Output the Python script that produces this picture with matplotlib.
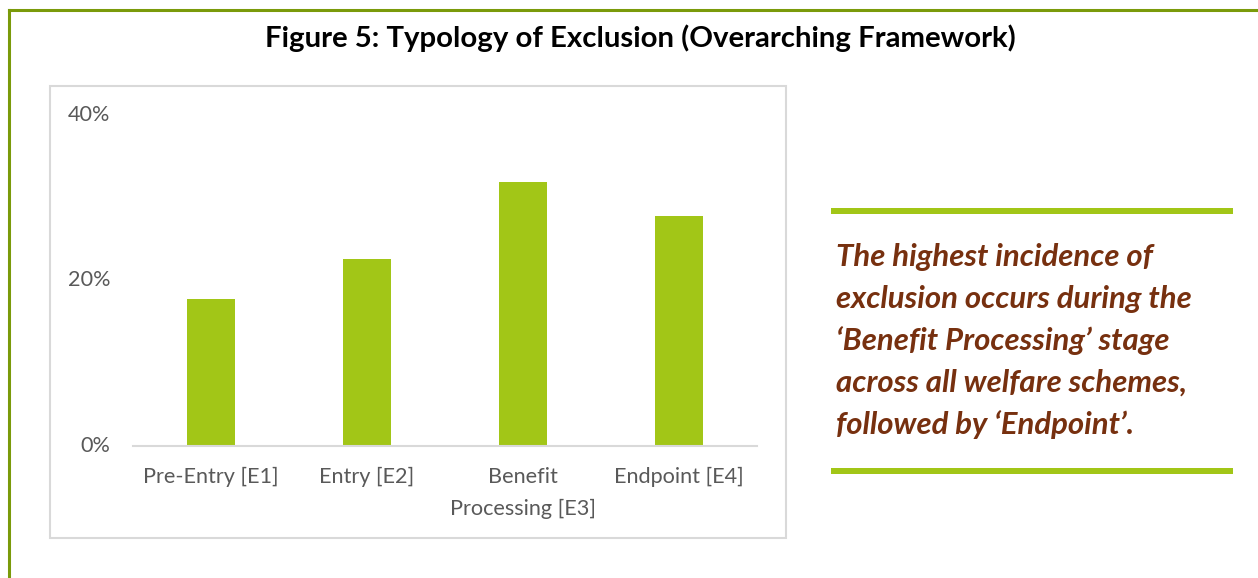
import matplotlib
matplotlib.use("Agg")
import matplotlib.pyplot as plt
from matplotlib.patches import Rectangle
from matplotlib.lines import Line2D
from matplotlib.ticker import FuncFormatter

# stages of exclusion and share of exclusion (%)
STAGES = ["Pre-Entry [E1]", "Entry [E2]", "Benefit\nProcessing [E3]", "Endpoint [E4]"]
SHARE = [17.8, 22.6, 31.9, 27.8]
Y_TICKS = [0, 20, 40]

TITLE = "Figure 5: Typology of Exclusion (Overarching Framework)"
NOTE = ["The highest incidence of",
        "exclusion occurs during the",
        "\u2018Benefit Processing\u2019 stage",
        "across all welfare schemes,",
        "followed by \u2018Endpoint\u2019."]

W, H = 1258, 578
BAR = "#A2C617"
OLIVE = "#7A9A0A"
BROWN = "#77300F"
GREY = "#595959"

plt.rcParams["font.family"] = ["Lato", "DejaVu Sans"]

fig = plt.figure(figsize=(W / 100, H / 100), dpi=100)


def fx(px):
    return px / W


def fy(py):
    return 1 - py / H


# outer frame: left and top edges only
fig.add_artist(Line2D([fx(9), fx(9)], [fy(10), 0], color=OLIVE, lw=2.2))
fig.add_artist(Line2D([fx(9), 1], [fy(10), fy(10)], color=OLIVE, lw=2.2))

fig.text(fx(640), fy(38), TITLE, ha="center", va="center",
         fontsize=21.2, fontweight="bold", color="black")

# chart box
fig.add_artist(Rectangle((fx(50), fy(538)), fx(786 - 50), (538 - 86) / H,
                         fill=False, edgecolor="#D9D9D9", lw=1.5))

ax = fig.add_axes([fx(133), fy(446), fx(757 - 133), (446 - 115) / H])
x = range(len(STAGES))
ax.bar(x, SHARE, width=0.31, color=BAR, zorder=2)
ax.set_xlim(-0.5, len(STAGES) - 0.5)
ax.set_ylim(0, 40)
ax.set_yticks(Y_TICKS)
ax.yaxis.set_major_formatter(FuncFormatter(lambda v, _: f"{v:.0f}%"))
ax.set_xticks(list(x))
ax.set_xticklabels(STAGES, linespacing=1.75)
for s in ("top", "right", "left"):
    ax.spines[s].set_visible(False)
ax.spines["bottom"].set_color("#D9D9D9")
ax.spines["bottom"].set_linewidth(1.5)
ax.tick_params(axis="both", length=0, labelsize=15.6, colors=GREY)
ax.tick_params(axis="y", pad=16.5)
ax.tick_params(axis="x", pad=15)
for lbl in ax.get_yticklabels():
    lbl.set_verticalalignment("center")

# side note between two green rules
fig.add_artist(Rectangle((fx(831), fy(214)), fx(1233 - 831), 6 / H,
                         color=BAR, lw=0))
fig.add_artist(Rectangle((fx(831), fy(474)), fx(1233 - 831), 6 / H,
                         color=BAR, lw=0))
for i, line in enumerate(NOTE):
    fig.text(fx(836), fy(257 + 42 * i), line, ha="left", va="center",
             fontsize=22.4, fontweight="bold", fontstyle="italic", color=BROWN)

fig.savefig("out.png", dpi=100)
